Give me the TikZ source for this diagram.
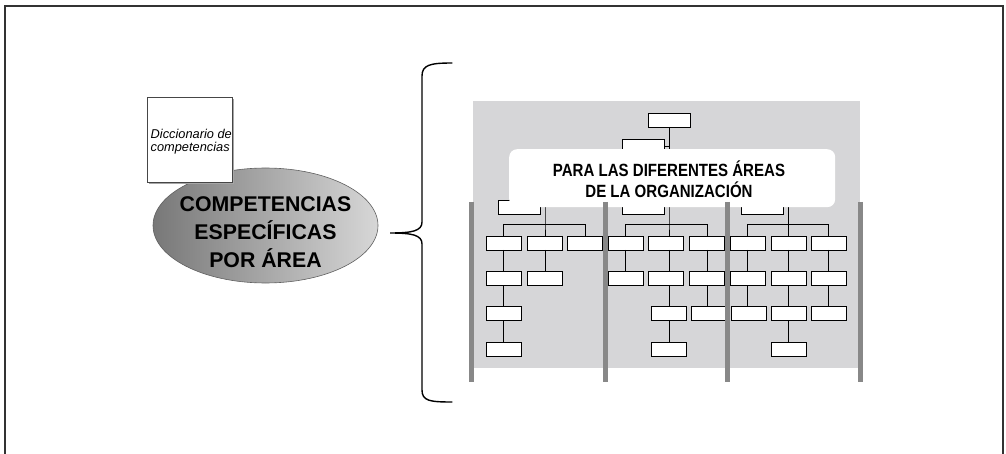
\documentclass[tikz,border=0pt]{standalone}
\usepackage{fontspec}
\setmainfont{Liberation Sans}
\newfontfamily\condfont[FakeStretch=0.85]{Liberation Sans}
\usetikzlibrary{shapes.geometric}
\definecolor{bggray}{RGB}{214,214,216}
\definecolor{bargray}{RGB}{136,136,136}
\definecolor{framegray}{RGB}{50,50,50}
\definecolor{ellleft}{RGB}{120,120,120}
\definecolor{ellright}{RGB}{215,215,215}
\tikzset{
  orgbox/.style={draw=black, fill=white, line width=0.9pt, minimum width=35pt, minimum height=14pt, inner sep=0pt, outer sep=0pt, anchor=north west},
  conn/.style={draw=black, line width=0.8pt},
  sidebar/.style={draw=bargray, line width=5pt},
}
\begin{document}
\begin{tikzpicture}[x=1pt,y=-1pt]
\useasboundingbox (0,0) rectangle (1006,454);
% frame
\draw[framegray, line width=1.5pt] (5,454) -- (5,6) -- (1003,6) -- (1003,454);

% left: ellipse and dictionary
\node[ellipse, draw=gray!75!black, line width=0.6pt, minimum width=225pt, minimum height=115pt, inner sep=0pt,
      left color=ellleft, right color=ellright] (ell) at (265.5,225.5) {};
\node[align=center, inner sep=0pt, font=\bfseries\fontsize{21.3}{28}\selectfont] (elltext) at (265.5,232.5)
  {COMPETENCIAS\\ESPECÍFICAS\\POR ÁREA};
\fill[gray!70] (149,99) rectangle (234,184);
\node[draw=gray!55!black, fill=white, line width=1pt, minimum width=85pt, minimum height=85pt, inner sep=0pt, anchor=north west] (dict) at (147,97) {};
\node[align=left, anchor=west, inner sep=0pt, font=\itshape\fontsize{12.8}{12.5}\selectfont] (dicttext) at (150.5,141.5)
  {Diccionario de\\competencias};

% brace
\draw[line width=1.4pt, line cap=round] (452,63) .. controls (430,63) and (422,65) .. (422,76)
  -- (422,222) .. controls (422,231) and (412,233) .. (390,233)
  .. controls (412,233) and (422,235) .. (422,244)
  -- (422,390) .. controls (422,401) and (430,402) .. (452,402);

% org chart background
\fill[bggray] (473,101) rectangle (860,368);

% line positions
\coordinate (l1) at (503,0);
\coordinate (l2) at (545,0);
\coordinate (l3) at (585,0);
\coordinate (l4) at (625,0);
\coordinate (l5) at (669,0);
\coordinate (l6) at (707,0);
\coordinate (l7) at (747,0);
\coordinate (l8) at (788,0);
\coordinate (l9) at (828,0);
\coordinate (bus) at (0,224);

% top boxes
\node[orgbox, minimum width=42pt] (t) at (648,113) {};
\node[orgbox, minimum width=42pt] (m) at (622,139) {};
\node[orgbox, minimum width=42pt] (s1) at (498,200) {};
\node[orgbox, minimum width=42pt] (s2) at (622,200) {};
\node[orgbox, minimum width=42pt] (s3) at (741,200) {};

% row 1
\node[orgbox] (r1c1) at (486,236) {};
\node[orgbox] (r1c2) at (527,236) {};
\node[orgbox] (r1c3) at (567,236) {};
\node[orgbox] (r1c4) at (608,236) {};
\node[orgbox] (r1c5) at (648,236) {};
\node[orgbox] (r1c6) at (689,236) {};
\node[orgbox] (r1c7) at (730,236) {};
\node[orgbox] (r1c8) at (771,236) {};
\node[orgbox] (r1c9) at (811,236) {};
% row 2
\node[orgbox] (r2c1) at (486,271) {};
\node[orgbox] (r2c2) at (527,271) {};
\node[orgbox] (r2c4) at (608,271) {};
\node[orgbox] (r2c5) at (648,271) {};
\node[orgbox] (r2c6) at (689,271) {};
\node[orgbox] (r2c7) at (730,271) {};
\node[orgbox] (r2c8) at (771,271) {};
\node[orgbox] (r2c9) at (811,271) {};
% row 3
\node[orgbox] (r3c1) at (486,306.5) {};
\node[orgbox] (r3c5) at (651,306.5) {};
\node[orgbox] (r3c6) at (691,306.5) {};
\node[orgbox] (r3c7) at (731,306.5) {};
\node[orgbox] (r3c8) at (771,306.5) {};
\node[orgbox] (r3c9) at (811,306.5) {};
% row 4
\node[orgbox] (r4c1) at (486,342) {};
\node[orgbox] (r4c5) at (651,342) {};
\node[orgbox] (r4c8) at (771,342) {};

% connectors
\draw[conn] (t.south) -- (t.south |- s2.north);
\draw[conn] (m.east) -- (m.east -| t.south);
% section 1
\draw[conn] (s1.north -| l2) -- (bus -| l2) -- (r1c2.north -| l2);
\draw[conn] (r1c1.north -| l1) -- (bus -| l1) -- (bus -| l3) -- (r1c3.north -| l3);
\draw[conn] (r1c1.south -| l1) -- (r2c1.north -| l1);
\draw[conn] (r2c1.south -| l1) -- (r3c1.north -| l1);
\draw[conn] (r3c1.south -| l1) -- (r4c1.north -| l1);
\draw[conn] (r1c2.south -| l2) -- (r2c2.north -| l2);
% section 2
\draw[conn] (s2.north -| l5) -- (bus -| l5) -- (r1c5.north -| l5);
\draw[conn] (r1c4.north -| l4) -- (bus -| l4) -- (bus -| l6) -- (r1c6.north -| l6);
\draw[conn] (r1c4.south -| l4) -- (r2c4.north -| l4);
\draw[conn] (r1c5.south -| l5) -- (r2c5.north -| l5);
\draw[conn] (r2c5.south -| l5) -- (r3c5.north -| l5);
\draw[conn] (r3c5.south -| l5) -- (r4c5.north -| l5);
\draw[conn] (r1c6.south -| l6) -- (r2c6.north -| l6);
\draw[conn] (r2c6.south -| l6) -- (r3c6.north -| l6);
% section 3
\draw[conn] (s3.north -| l8) -- (bus -| l8) -- (r1c8.north -| l8);
\draw[conn] (r1c7.north -| l7) -- (bus -| l7) -- (bus -| l9) -- (r1c9.north -| l9);
\draw[conn] (r1c7.south -| l7) -- (r2c7.north -| l7);
\draw[conn] (r2c7.south -| l7) -- (r3c7.north -| l7);
\draw[conn] (r1c8.south -| l8) -- (r2c8.north -| l8);
\draw[conn] (r2c8.south -| l8) -- (r3c8.north -| l8);
\draw[conn] (r3c8.south -| l8) -- (r4c8.north -| l8);
\draw[conn] (r1c9.south -| l9) -- (r2c9.north -| l9);
\draw[conn] (r2c9.south -| l9) -- (r3c9.north -| l9);

% banner
\node[fill=white, rounded corners=8pt, minimum width=326pt, minimum height=58pt, inner sep=0pt, anchor=north west] (banner) at (509,149) {};
\node[align=center, inner sep=0pt, font=\condfont\bfseries\fontsize{17.7}{21.5}\selectfont] (bannertext) at (669,179)
  {PARA LAS DIFERENTES ÁREAS\\DE LA ORGANIZACIÓN};

% side bars
\draw[sidebar] (471,202) -- (471,382);
\draw[sidebar] (605,202) -- (605,382);
\draw[sidebar] (727,202) -- (727,382);
\draw[sidebar] (860,202) -- (860,382);
\end{tikzpicture}
\end{document}
